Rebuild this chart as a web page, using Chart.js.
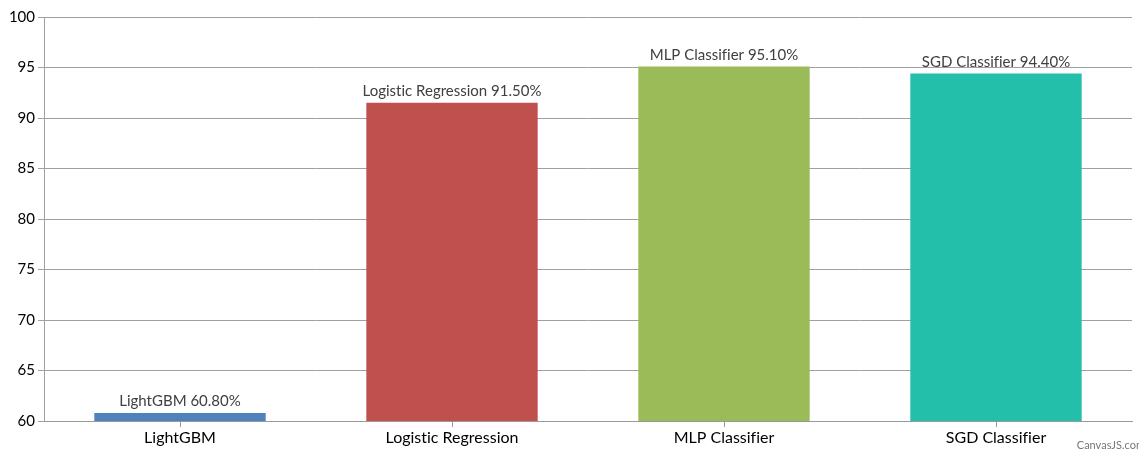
<!DOCTYPE html>
<html>
<head>
<meta charset="utf-8">
<script src="https://cdn.jsdelivr.net/npm/chart.js@4"></script>
<style>
  html, body { margin: 0; padding: 0; background: #fff; }
  #wrap { position: relative; width: 1139px; height: 452px; overflow: hidden; }
  #credit { position: absolute; right: -6px; bottom: 1px; font: 11px Lato, sans-serif; color: #777; }
</style>
</head>
<body>
<div id="wrap">
  <canvas id="c" width="1139" height="452"></canvas>
  <div id="credit">CanvasJS.com</div>
</div>
<script>
const models = ["LightGBM", "Logistic Regression", "MLP Classifier", "SGD Classifier"];
const accuracy = [60.8, 91.5, 95.1, 94.4];
const barColors = ["#4F81BC", "#C0504E", "#9BBB58", "#23BFAA"];
const yTicks = [60, 65, 70, 75, 80, 85, 90, 95, 100];

const FONT = "Lato, 'Open Sans', sans-serif";

// plain glyphs, no "fi" ligatures
const plainText = {
  id: "plainText",
  beforeDraw(chart) {
    if ("textRendering" in chart.ctx) chart.ctx.textRendering = "optimizeSpeed";
  }
};

// writes "<model> <value>%" above each bar
const barLabels = {
  id: "barLabels",
  afterDatasetsDraw(chart) {
    const ctx = chart.ctx;
    const meta = chart.getDatasetMeta(0);
    ctx.save();
    ctx.font = "15px " + FONT;
    ctx.fillStyle = "#404040";
    ctx.textAlign = "center";
    ctx.textBaseline = "bottom";
    meta.data.forEach((bar, i) => {
      const txt = models[i] + " " + accuracy[i].toFixed(2) + "%";
      ctx.fillText(txt, bar.x, bar.y - 4);
    });
    ctx.restore();
  }
};

new Chart(document.getElementById("c"), {
  type: "bar",
  data: {
    labels: models,
    datasets: [{
      data: accuracy,
      backgroundColor: barColors,
      borderWidth: 0,
      categoryPercentage: 1,
      barPercentage: 0.63
    }]
  },
  options: {
    responsive: false,
    animation: false,
    layout: { padding: { top: 17, right: 7, left: 0, bottom: 0 } },
    plugins: { legend: { display: false }, tooltip: { enabled: false } },
    scales: {
      x: {
        afterFit(s) { s.height = 31; },
        grid: { offset: false, drawOnChartArea: false, drawTicks: true, tickLength: 6, color: "#999" },
        border: { color: "#999" },
        ticks: { color: "#000", font: { family: FONT, size: 16 }, padding: 1 }
      },
      y: {
        min: 60,
        max: 100,
        afterFit(s) { s.width = 44; },
        afterBuildTicks(s) { s.ticks = yTicks.map(v => ({ value: v })); },
        grid: { color: "#A0A0A0", tickLength: 6 },
        border: { color: "#A0A0A0" },
        ticks: { color: "#000", font: { family: FONT, size: 15 }, padding: 3 }
      }
    }
  },
  plugins: [plainText, barLabels]
});
</script>
</body>
</html>
